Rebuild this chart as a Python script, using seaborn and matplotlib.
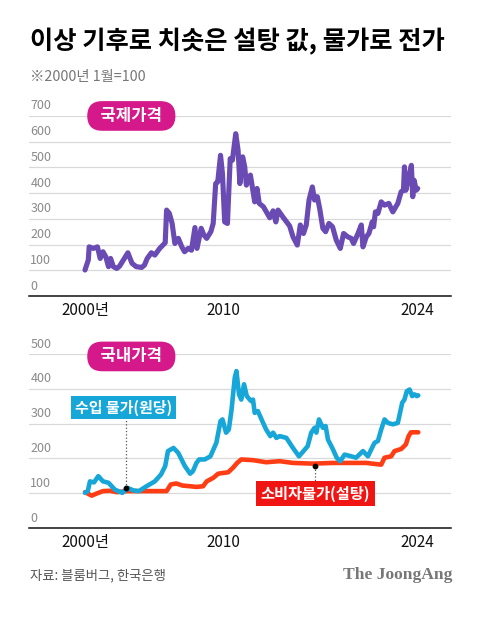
import numpy as np
import pandas as pd
import seaborn as sns
import matplotlib.pyplot as plt
from matplotlib.transforms import ScaledTranslation

# 국제가격 (2000년 1월=100)
intl_year = [2000.0, 2000.24, 2000.3, 2000.6, 2000.9, 2001.1, 2001.3, 2001.5, 2001.7, 2001.85,
             2002.05, 2002.3, 2002.5, 2003.1, 2003.4, 2003.7, 2004.1, 2004.3, 2004.5, 2004.8,
             2005.05, 2005.4, 2005.8, 2005.9, 2006.1, 2006.3, 2006.5, 2006.75, 2007.0, 2007.2,
             2007.46, 2007.7, 2007.95, 2008.1, 2008.4, 2008.6, 2008.8, 2009.1, 2009.27, 2009.45,
             2009.6, 2009.8, 2009.94, 2010.1, 2010.3, 2010.5, 2010.66, 2010.9, 2011.07, 2011.2,
             2011.4, 2011.55, 2011.67, 2011.96, 2012.1, 2012.27, 2012.44, 2012.6, 2012.9, 2013.36,
             2013.6, 2013.8, 2013.96, 2014.3, 2014.8, 2015.04, 2015.35, 2015.57, 2015.8, 2016.0,
             2016.2, 2016.44, 2016.6, 2016.8, 2016.97, 2017.2, 2017.4, 2017.64, 2017.9, 2018.17,
             2018.46, 2018.7, 2019.0, 2019.25, 2019.42, 2019.74, 2019.98, 2020.1, 2020.34, 2020.53,
             2020.77, 2020.87, 2021.0, 2021.18, 2021.42, 2021.66, 2021.97, 2022.26, 2022.62, 2022.86,
             2023.03, 2023.1, 2023.2, 2023.4, 2023.6, 2023.7, 2023.8, 2023.95, 2024.06]
intl_value = [101, 140, 191, 185, 191, 146, 172, 153, 114, 146,
              114, 107, 116, 168, 127, 114, 111, 120, 146, 168,
              159, 185, 207, 334, 321, 282, 204, 224, 191, 172,
              185, 178, 266, 185, 263, 237, 224, 250, 282, 437,
              444, 547, 476, 288, 282, 534, 528, 631, 567, 437,
              541, 502, 431, 470, 424, 366, 418, 360, 347, 304,
              331, 288, 334, 308, 272, 230, 198, 276, 243, 276,
              373, 424, 373, 386, 340, 263, 250, 282, 269, 217,
              185, 243, 230, 224, 204, 243, 276, 191, 230, 243,
              288, 269, 327, 321, 366, 353, 360, 327, 360, 405,
              411, 502, 411, 457, 508, 386, 450, 411, 418]

# 수입 물가(원당)
import_year = [2000.0, 2000.2, 2000.36, 2000.65, 2000.96, 2001.3, 2001.7, 2002.17, 2002.7, 2003.1,
               2003.5, 2003.9, 2004.45, 2005.05, 2005.5, 2005.8, 2006.0, 2006.4, 2006.74, 2007.22,
               2007.6, 2007.8, 2008.06, 2008.25, 2008.66, 2009.07, 2009.5, 2009.8, 2009.94, 2010.2,
               2010.4, 2010.6, 2010.83, 2010.95, 2011.14, 2011.3, 2011.5, 2011.7, 2012.0, 2012.15,
               2012.27, 2012.5, 2012.88, 2013.1, 2013.4, 2013.6, 2013.84, 2014.08, 2014.56, 2015.04,
               2015.47, 2015.8, 2016.1, 2016.36, 2016.6, 2016.73, 2016.92, 2017.2, 2017.4, 2017.57,
               2017.93, 2018.2, 2018.46, 2018.77, 2019.25, 2019.6, 2020.1, 2020.46, 2020.7, 2020.94,
               2021.18, 2021.42, 2021.66, 2021.9, 2022.26, 2022.62, 2022.94, 2023.1, 2023.27, 2023.47,
               2023.66, 2023.83, 2024.0, 2024.1]
import_value = [101, 106, 134, 131, 149, 134, 130, 110, 101, 115,
                108, 106, 120, 134, 154, 178, 221, 230, 216, 178,
                156, 163, 187, 197, 197, 206, 245, 307, 312, 274,
                283, 341, 432, 451, 384, 369, 413, 379, 365, 369,
                331, 336, 302, 283, 264, 274, 259, 264, 259, 230,
                206, 221, 235, 274, 288, 274, 312, 288, 293, 254,
                226, 202, 192, 211, 206, 202, 221, 206, 226, 245,
                250, 283, 312, 302, 298, 302, 360, 369, 393, 398,
                379, 384, 379, 381]

# 소비자물가(설탕)
cpi_year = [2000.0, 2000.2, 2000.48, 2000.84, 2001.3, 2001.8, 2002.3, 2003.0, 2004.0, 2004.93,
            2005.9, 2006.2, 2006.6, 2007.05, 2007.6, 2008.06, 2008.54, 2008.8, 2009.27, 2009.63,
            2009.94, 2010.35, 2010.7, 2011.0, 2011.3, 2012.15, 2013.1, 2014.08, 2015.04, 2016.5,
            2017.93, 2019.37, 2020.34, 2021.42, 2021.66, 2022.14, 2022.38, 2022.86, 2023.2, 2023.4,
            2023.57, 2024.1]
cpi_value = [103, 99, 93, 99, 106, 107, 103, 106, 106, 106,
             106, 125, 128, 122, 120, 118, 120, 134, 144, 156,
             158, 160, 173, 187, 197, 195, 189, 192, 187, 185,
             187, 187, 187, 182, 202, 206, 221, 227, 240, 264,
             275, 275]

x_ticks = [2000, 2010, 2024]
x_tick_labels = ['2000년', '2010', '2024']
top_yticks = [0, 100, 200, 300, 400, 500, 600, 700]
bottom_yticks = [0, 100, 200, 300, 400, 500]

PURPLE = '#6a4bb4'
MAGENTA = '#d6198a'
BLUE = '#17a6d8'
RED_LINE = '#ff3d14'
RED_BOX = '#f01512'

sns.set_style('white')
plt.rcParams['font.family'] = ['Noto Sans CJK KR', 'DejaVu Sans']

fig = plt.figure(figsize=(4.8, 6.35), dpi=100)
ax1 = fig.add_axes([0.0604, 0.5339, 0.879, 0.2835])
ax2 = fig.add_axes([0.0604, 0.1685, 0.879, 0.274])


def style_axis(ax, yticks):
    ax.set_xlim(1995.95, 2026.46)
    ax.set_ylim(0, yticks[-1])
    ax.set_yticks(yticks)
    ax.set_xticks(x_ticks, x_tick_labels)
    ax.grid(axis='y', color='#d9d9d9', linewidth=0.9)
    ax.grid(axis='x', visible=False)
    ax.set_axisbelow(True)
    for s in ['top', 'right', 'left']:
        ax.spines[s].set_visible(False)
    ax.spines['bottom'].set_color('#111111')
    ax.spines['bottom'].set_linewidth(1.1)
    ax.tick_params(axis='y', length=0, pad=-1, labelsize=9, labelcolor='#8a8a8a')
    ax.tick_params(axis='x', direction='in', length=5, width=0.9, color='#bbbbbb',
                   pad=4, labelsize=11, labelcolor='#111111')
    offset = ScaledTranslation(0, 2.5 / 72, fig.dpi_scale_trans)
    for lbl in ax.get_yticklabels():
        lbl.set_ha('left')
        lbl.set_va('bottom')
        lbl.set_transform(lbl.get_transform() + offset)
    ax.set_xlabel('')
    ax.set_ylabel('')


pill = dict(boxstyle='round,pad=0.35,rounding_size=0.9', fc=MAGENTA, ec='none')

# top: international price
sns.lineplot(x=intl_year, y=intl_value, ax=ax1, color=PURPLE, linewidth=3.7,
             solid_joinstyle='round', solid_capstyle='round', clip_on=False)
style_axis(ax1, top_yticks)
ax1.text(2003.35, 700, '  국제가격  ', ha='center', va='center', color='white',
         fontsize=12, fontweight='bold', zorder=5, bbox=pill)

# bottom: domestic prices
sns.lineplot(x=cpi_year, y=cpi_value, ax=ax2, color=RED_LINE, linewidth=3.3,
             solid_joinstyle='round', solid_capstyle='round', clip_on=False)
sns.lineplot(x=import_year, y=import_value, ax=ax2, color=BLUE, linewidth=3.3,
             solid_joinstyle='round', solid_capstyle='round', clip_on=False)
style_axis(ax2, bottom_yticks)
ax2.text(2003.35, 493, '  국내가격  ', ha='center', va='center', color='white',
         fontsize=12, fontweight='bold', zorder=5, bbox=pill)

# callouts
ax2.plot([2003.0, 2003.0], [115, 313], color='#555555', linestyle=':', linewidth=0.9, zorder=4)
ax2.scatter([2003.0], [115], s=10, color='black', zorder=6)
ax2.text(2002.78, 346, '수입 물가(원당)', ha='center', va='center', color='white',
         fontsize=10.8, fontweight='bold', zorder=5,
         bbox=dict(boxstyle='square,pad=0.25', fc=BLUE, ec='none'))

ax2.plot([2016.63, 2016.63], [178, 132], color='#555555', linestyle=':', linewidth=0.9, zorder=4)
ax2.scatter([2016.63], [178], s=10, color='black', zorder=6)
ax2.text(2016.67, 99, '소비자물가(설탕)', ha='center', va='center', color='white',
         fontsize=11, fontweight='bold', zorder=5,
         bbox=dict(boxstyle='square,pad=0.28', fc=RED_BOX, ec='none'))

# titles and notes
fig.text(30 / 480, 1 - 42 / 635, '이상 기후로 치솟은 설탕 값, 물가로 전가', ha='left', va='center',
         fontsize=18.2, fontweight='heavy', color='#000000')
fig.text(30 / 480, 1 - 77 / 635, '※2000년 1월=100', ha='left', va='center',
         fontsize=10.3, color='#777777')
fig.text(30 / 480, 1 - 575 / 635, '자료: 블룸버그, 한국은행', ha='left', va='center',
         fontsize=9.6, color='#555555')
fig.text(452 / 480, 1 - 575 / 635, 'The JoongAng', ha='right', va='center',
         fontsize=12.6, fontweight='bold', color='#777777', family='Liberation Serif')

fig.savefig('out.png', dpi=100)
